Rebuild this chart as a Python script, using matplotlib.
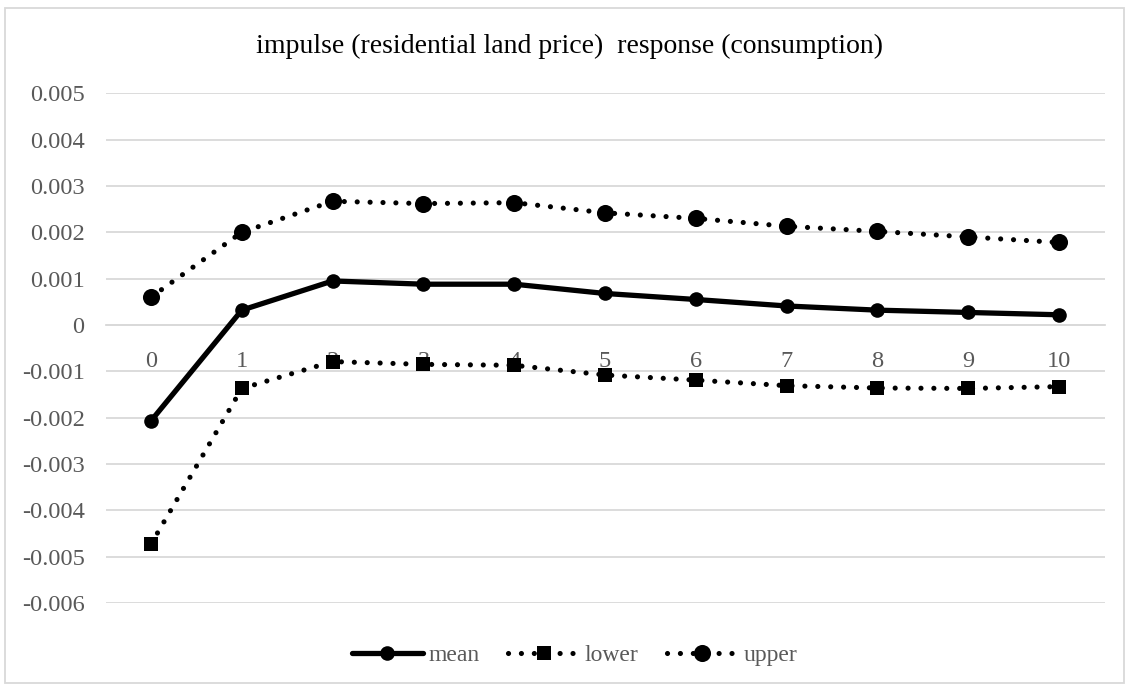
import matplotlib
matplotlib.use('Agg')
import matplotlib.pyplot as plt
from matplotlib.patches import Rectangle

plt.rcParams['font.family'] = ['Liberation Serif', 'DejaVu Serif']

periods = list(range(11))
mean = [-0.00207, 0.00032, 0.00095, 0.00088, 0.00088, 0.00068, 0.00055, 0.00041, 0.00032, 0.00027, 0.00022]
lower = [-0.00473, -0.00137, -0.00079, -0.00085, -0.00087, -0.00108, -0.00119, -0.00131, -0.00136, -0.00137, -0.00133]
upper = [0.00060, 0.00200, 0.00267, 0.00262, 0.00264, 0.00242, 0.00230, 0.00213, 0.00202, 0.00190, 0.00178]

y_ticks = [-0.006, -0.005, -0.004, -0.003, -0.002, -0.001, 0, 0.001, 0.002, 0.003, 0.004, 0.005]
y_labels = ['-0.006', '-0.005', '-0.004', '-0.003', '-0.002', '-0.001', '0',
            '0.001', '0.002', '0.003', '0.004', '0.005']
title = 'impulse (residential land price)  response (consumption)'

TEXT = '#595959'
GRID = '#d9d9d9'
dots = (0, (0.01, 2.5))

fig = plt.figure(figsize=(11.29, 6.86), dpi=100)
ax = fig.add_axes([0.0935, 0.121, 0.8848, 0.743])

ax.plot(periods, mean, color='black', lw=3.8, marker='o', ms=10.5, mew=0,
        solid_capstyle='round', label='mean', zorder=3)
ax.plot(periods, lower, color='black', lw=3.7, ls=dots, dash_capstyle='round',
        marker='s', ms=10.3, mew=0, label='lower', zorder=3)
ax.plot(periods, upper, color='black', lw=3.7, ls=dots, dash_capstyle='round',
        marker='o', ms=12.3, mew=0, label='upper', zorder=3)

ax.set_xlim(-0.5, 10.5)
ax.set_ylim(-0.006, 0.005)
ax.set_yticks(y_ticks)
ax.set_yticklabels(y_labels)
ax.set_xticks(periods)
ax.set_xticklabels([str(p) for p in periods])

ax.grid(axis='y', color=GRID, lw=1.3)
ax.set_axisbelow(True)
for side in ['top', 'right', 'left']:
    ax.spines[side].set_visible(False)
ax.spines['bottom'].set_position(('data', 0))
ax.spines['bottom'].set_color(GRID)
ax.spines['bottom'].set_linewidth(1.3)
ax.tick_params(axis='y', length=0, pad=15, labelsize=17.6, labelcolor=TEXT)
ax.tick_params(axis='x', length=0, pad=19, labelsize=17.6, labelcolor=TEXT)

fig.text(0.504, 1 - 53 / 686, title, ha='center', va='baseline', fontsize=20, color='black')

leg = fig.legend(loc='center', bbox_to_anchor=(0.509, 0.045), ncol=3, frameon=False,
                 fontsize=17, handlelength=3.0, columnspacing=1.2, handletextpad=0.25)
for t in leg.get_texts():
    t.set_color(TEXT)

fig.patches.append(Rectangle((0.0045, 0.004), 0.991, 0.984, transform=fig.transFigure,
                             fill=False, edgecolor=GRID, lw=1.3))

fig.savefig('out.png', dpi=100)
